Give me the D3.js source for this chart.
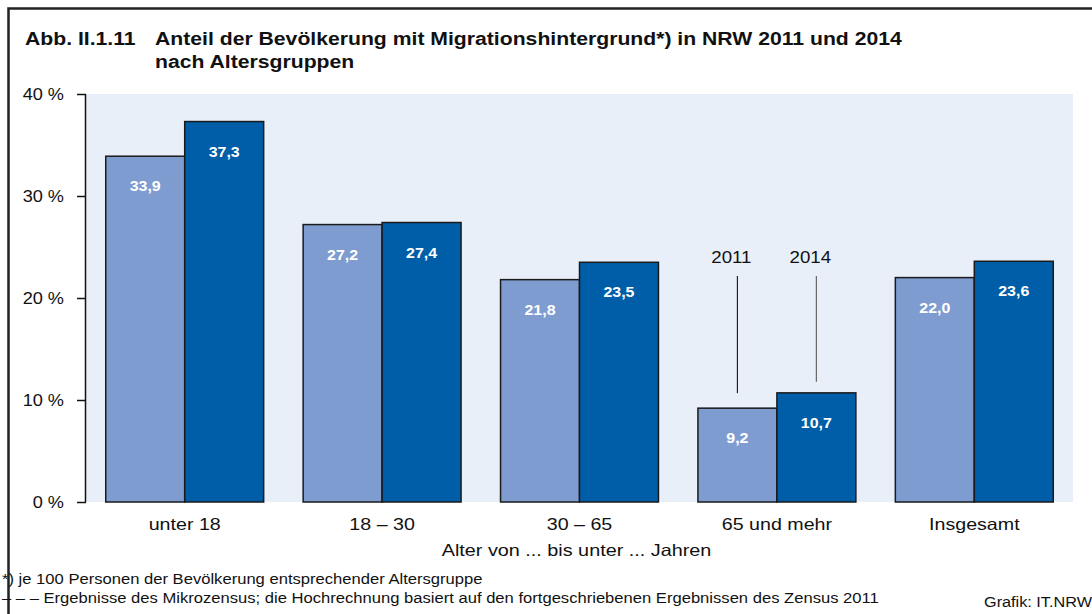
<!DOCTYPE html>
<html>
<head>
<meta charset="utf-8">
<script src="https://cdn.jsdelivr.net/npm/d3@7"></script>
<style>
  html, body { margin: 0; padding: 0; background: #fff; }
  svg { display: block; font-family: Arial, "Liberation Sans", sans-serif; }
</style>
</head>
<body>
<svg id="drawing_region"></svg>
<script>
// data
const categories = ["unter 18", "18 – 30", "30 – 65", "65 und mehr", "Insgesamt"];
const years = ["2011", "2014"];
const values2011 = [33.9, 27.2, 21.8, 9.2, 22.0];
const values2014 = [37.3, 27.4, 23.5, 10.7, 23.6];
const yTicks = [0, 10, 20, 30, 40];

const titleNo = "Abb. II.1.11";
const titleLines = ["Anteil der Bevölkerung mit Migrationshintergrund*) in NRW 2011 und 2014", "nach Altersgruppen"];
const xTitle = "Alter von ... bis unter ... Jahren";
const notes = ["*) je 100 Personen der Bevölkerung entsprechender Altersgruppe",
               "– – – Ergebnisse des Mikrozensus; die Hochrechnung basiert auf den fortgeschriebenen Ergebnissen des Zensus 2011"];
const source = "Grafik: IT.NRW";

const W = 1092, H = 614;
const margin = {top: 94, right: 19, bottom: 112, left: 86};
const colors = {"2011": "#7f9cd0", "2014": "#005ea8"};
const font = "Arial, 'Liberation Sans', sans-serif";

// the original lettering is a bit wider than Arial
function stretch(sel, factor){
    sel.each(function(){
        const len = this.getComputedTextLength();
        d3.select(this).attr("textLength", len * factor).attr("lengthAdjust", "spacingAndGlyphs");
    });
}

const svg = d3.select("#drawing_region").attr("width", W).attr("height", H);

// frame
svg.append("rect")
   .attr("x", 8.5).attr("y", 8.5)
   .attr("width", W + 20).attr("height", H + 20)
   .attr("fill", "none").attr("stroke", "#222").attr("stroke-width", 2.5);

// title
const title = svg.append("g").attr("font-weight", "bold").attr("font-size", 17.5).attr("fill", "#111");
title.append("text").attr("x", 25).attr("y", 45).text(titleNo);
titleLines.forEach((t, i) => {
    title.append("text").attr("x", 155).attr("y", 45 + i * 23).text(t);
});
stretch(title.selectAll("text"), 1.21);

const innerW = W - margin.left - margin.right;
const innerH = H - margin.top - margin.bottom;
const chart = svg.append("g").attr("transform", `translate(${margin.left}, ${margin.top})`);

const xscale = d3.scaleBand().domain(categories).range([0, innerW]).paddingInner(0.2).paddingOuter(0.1);
const xsub = d3.scaleBand().domain(years).range([0, xscale.bandwidth()]);
const yscale = d3.scaleLinear().domain([0, 40]).range([innerH, 0]);

// plot background
chart.append("rect")
     .attr("x", 0).attr("y", yscale(40))
     .attr("width", innerW).attr("height", yscale(0) - yscale(40))
     .attr("fill", "#e8eff9");

// y axis
const yaxis = d3.axisLeft(yscale).tickValues(yTicks).tickSize(9).tickPadding(13)
                .tickFormat(d => d + " %");
const yaxis_group = chart.append("g").call(yaxis);
yaxis_group.select(".domain").attr("stroke", "#111").attr("stroke-width", 1.5)
           .attr("d", `M-0.5,${yscale(40)}V${yscale(0)}`);
yaxis_group.selectAll(".tick line").attr("stroke", "#111").attr("stroke-width", 1.5);
yaxis_group.selectAll(".tick text").attr("font-size", 16.5).attr("fill", "#111")
           .attr("font-family", font);
stretch(yaxis_group.selectAll(".tick text"), 1.1);

// bars
const series = years.map(y => ({year: y, values: y === "2011" ? values2011 : values2014}));
const groups = chart.selectAll(".grp").data(categories).enter().append("g")
    .attr("transform", d => `translate(${xscale(d)}, 0)`);

groups.each(function(cat, i) {
    const g = d3.select(this);
    series.forEach(s => {
        const v = s.values[i];
        g.append("rect")
         .attr("x", xsub(s.year)).attr("y", yscale(v))
         .attr("width", xsub.bandwidth()).attr("height", yscale(0) - yscale(v))
         .attr("fill", colors[s.year]).attr("stroke", "#1a1a1a").attr("stroke-width", 1.5);
        g.append("text")
         .attr("class", "vlabel")
         .attr("x", xsub(s.year) + xsub.bandwidth() / 2).attr("y", yscale(v) + 35)
         .attr("text-anchor", "middle").attr("font-size", 14.5).attr("font-weight", "bold")
         .attr("fill", "#fff")
         .text(d3.format(".1f")(v).replace(".", ","));
    });
});
stretch(chart.selectAll(".vlabel"), 1.1);

// year annotation above "65 und mehr"
const annIdx = 3;
series.forEach((s, k) => {
    const cx = xscale(categories[annIdx]) + xsub(s.year) + xsub.bandwidth() / 2;
    const v = s.values[annIdx];
    const t = chart.append("text").attr("x", cx - 6).attr("y", 169)
         .attr("text-anchor", "middle").attr("font-size", 17).attr("fill", "#111")
         .text(s.year);
    stretch(t, 1.1);
    chart.append("line")
         .attr("x1", cx).attr("x2", cx)
         .attr("y1", 182).attr("y2", yscale(v) - (k === 0 ? 15 : 11))
         .attr("stroke", k === 0 ? "#222" : "#666").attr("stroke-width", 1.2);
});

// x labels
const xaxis = d3.axisBottom(xscale).tickSize(0).tickPadding(16);
const xaxis_group = chart.append("g").attr("transform", `translate(0, ${innerH})`).call(xaxis);
xaxis_group.select(".domain").remove();
xaxis_group.selectAll(".tick text").attr("font-size", 16.5).attr("fill", "#111")
           .attr("font-family", font);
stretch(xaxis_group.selectAll(".tick text"), 1.19);

const xt = chart.append("text")
     .attr("x", innerW / 2 - 3).attr("y", innerH + 54)
     .attr("text-anchor", "middle").attr("font-size", 16.5).attr("fill", "#111")
     .text(xTitle);
stretch(xt, 1.2);

// notes
notes.forEach((n, i) => {
    const t = svg.append("text").attr("x", 2).attr("y", 584 + i * 19)
       .attr("font-size", 14).attr("fill", "#111").text(n);
    stretch(t, 1.185);
});
svg.append("text").attr("x", 1092).attr("y", 607).attr("text-anchor", "end")
   .attr("font-size", 14).attr("fill", "#111")
   .attr("textLength", 108).attr("lengthAdjust", "spacingAndGlyphs")
   .text(source);
</script>
</body>
</html>
